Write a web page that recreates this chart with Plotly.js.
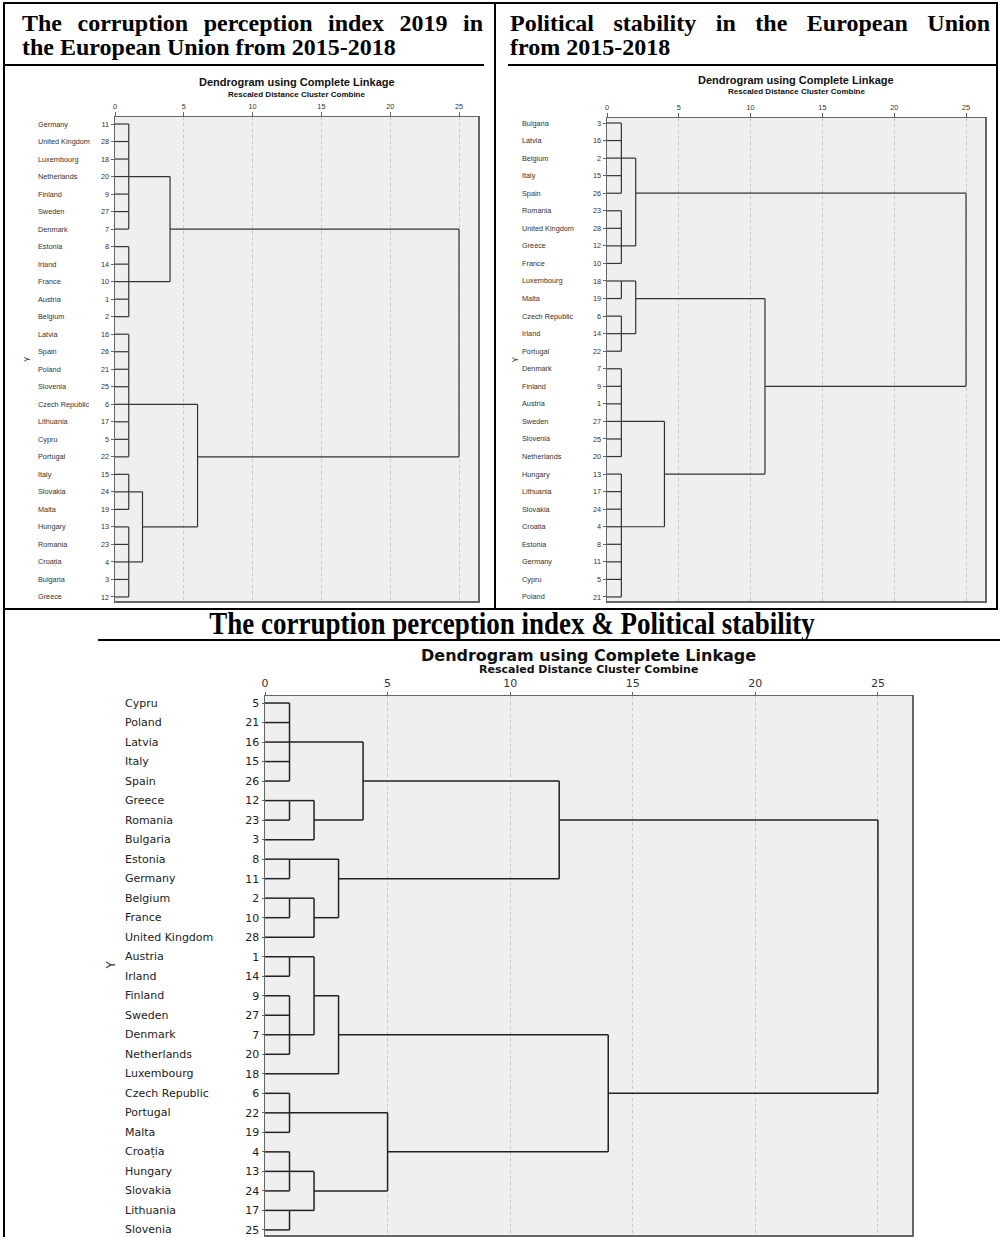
<!DOCTYPE html>
<html>
<head>
<meta charset="utf-8">
<script src="https://cdn.plot.ly/plotly-3.0.1.min.js"></script>
<style>
  html, body { margin: 0; padding: 0; background: #fff; }
  body { width: 1000px; height: 1237px; position: relative; overflow: hidden; }
  #chart { position: absolute; left: 0; top: 0; width: 1000px; height: 1237px; z-index: 1; }
  .ln { position: absolute; background: #000; z-index: 3; }
  .hdr { position: absolute; z-index: 3; font-family: "Liberation Serif", "Times New Roman", serif;
         font-weight: bold; color: #000; font-size: 24px; line-height: 24px; white-space: nowrap; }
  .just { text-align: justify; text-align-last: justify; white-space: normal; }
</style>
</head>
<body>
<div id="chart"></div>

<!-- table borders -->
<div class="ln" style="left:4px;top:2px;width:994px;height:2px"></div>
<div class="ln" style="left:3px;top:2px;width:2px;height:1235px"></div>
<div class="ln" style="left:996px;top:2px;width:2px;height:608px"></div>
<div class="ln" style="left:494px;top:2px;width:2px;height:608px"></div>
<div class="ln" style="left:4px;top:64px;width:480px;height:2px"></div>
<div class="ln" style="left:508px;top:64px;width:490px;height:2px"></div>
<div class="ln" style="left:4px;top:608px;width:994px;height:2px"></div>
<div class="ln" style="left:98px;top:639px;width:902px;height:2px"></div>

<!-- header texts -->
<div class="hdr just" style="left:22px;top:11px;width:461px">The corruption perception index 2019 in</div>
<div class="hdr" style="left:22px;top:35px">the European Union from 2015-2018</div>
<div class="hdr just" style="left:510px;top:11px;width:480px">Political stability in the European Union</div>
<div class="hdr" style="left:510px;top:35px">from 2015-2018</div>
<div class="hdr" style="left:0px;width:1024px;top:612px;font-size:27px;line-height:27px;text-align:center;transform:scaleY(1.2);transform-origin:50% 22.6px">The corruption perception index &amp; Political stability</div>

<script>
// ---------- DATA ----------
// Chart 1: corruption perception index 2019 (leaf order top to bottom)
const cpiCountries = ["Germany","United Kingdom","Luxembourg","Netherlands","Finland","Sweden","Denmark",
  "Estonia","Irland","France","Austria","Belgium","Latvia","Spain","Poland","Slovenia","Czech Republic",
  "Lithuania","Cypru","Portugal","Italy","Slovakia","Malta","Hungary","Romania","Croația","Bulgaria","Greece"];
const cpiIds = [11,28,18,20,9,27,7,8,14,10,1,2,16,26,21,25,6,17,5,22,15,24,19,13,23,4,3,12];
// tree node: [rescaled distance, row where the link leaves, children]; a plain number is a leaf row
const cpiTree = [25, null, [
  [4, 7, [
    [1, 4, [1,2,3,4,5,6,7]],
    [1, 10, [8,9,10,11,12]]
  ]],
  [6, 20, [
    [1, 17, [13,14,15,16,17,18,19,20]],
    [2, 24, [
      [1, 22, [21,22,23]],
      [1, 26, [24,25,26,27,28]]
    ]]
  ]]
]];

// Chart 2: political stability
const psCountries = ["Bulgaria","Latvia","Belgium","Italy","Spain","Romania","United Kingdom","Greece","France",
  "Luxembourg","Malta","Czech Republic","Irland","Portugal","Denmark","Finland","Austria","Sweden","Slovenia",
  "Netherlands","Hungary","Lithuania","Slovakia","Croația","Estonia","Germany","Cypru","Poland"];
const psIds = [3,16,2,15,26,23,28,12,10,18,19,6,14,22,7,9,1,27,25,20,13,17,24,4,8,11,5,21];
const psTree = [25, null, [
  [2, 5, [
    [1, 3, [1,2,3,4,5]],
    [1, 8, [6,7,8,9]]
  ]],
  [11, 16, [
    [2, 11, [
      [1, 10, [10,11]],
      [1, 13, [12,13,14]]
    ]],
    [4, 21, [
      [1, 18, [15,16,17,18,19,20]],
      [1, 24, [21,22,23,24,25,26,27,28]]
    ]]
  ]]
]];

// Chart 3: both indicators
const bothCountries = ["Cypru","Poland","Latvia","Italy","Spain","Greece","Romania","Bulgaria","Estonia",
  "Germany","Belgium","France","United Kingdom","Austria","Irland","Finland","Sweden","Denmark","Netherlands",
  "Luxembourg","Czech Republic","Portugal","Malta","Croația","Hungary","Slovakia","Lithuania","Slovenia"];
const bothIds = [5,21,16,15,26,12,23,3,8,11,2,10,28,1,14,9,27,7,20,18,6,22,19,4,13,24,17,25];
const bothTree = [25, null, [
  [12, 7, [
    [4, 5, [
      [1, 3, [1,2,3,4,5]],
      [2, 7, [[1, 6, [6,7]], 8]]
    ]],
    [3, 10, [
      [1, 9, [9,10]],
      [2, 12, [[1, 11, [11,12]], 13]]
    ]]
  ]],
  [14, 21, [
    [3, 18, [
      [2, 16, [[1, 14, [14,15]], [1, 18, [16,17,18,19]]]],
      20
    ]],
    [5, 24, [
      [1, 22, [21,22,23]],
      [2, 26, [[1, 25, [24,25,26]], [1, 27, [27,28]]]]
    ]]
  ]]
]];

const axisTicks = [0,5,10,15,20,25];
const titleText = "Dendrogram using Complete Linkage";
const subtitleText = "Rescaled Distance Cluster Combine";

// ---------- BUILD ----------
function segments(tree){
  const xs = [], ys = [];
  function walk(n){
    if (typeof n === 'number') return {pos:n, h:0};
    const h = n[0], at = n[1];
    const ch = n[2].map(walk);
    ch.forEach(c => { xs.push(c.h, h, null); ys.push(c.pos, c.pos, null); });
    const ps = ch.map(c => c.pos);
    xs.push(h, h, null); ys.push(Math.min(...ps), Math.max(...ps), null);
    return {pos:at, h:h};
  }
  walk(tree);
  return {xs, ys};
}

const H = 1237, W = 1000;
const px = v => v / W;
const py = v => 1 - v / H;

const charts = [
  {tree:cpiTree, names:cpiCountries, ids:cpiIds, xa:'x', ya:'y',
   x0:115, x1:478, xmax:26.38, y0:117, y1:601, rtop:0.60, rbot:28.23,
   fam:'"Liberation Sans", Arial, sans-serif', fs:7.3, lblX:36, yTitleX:27,
   titleY:82, subY:94, tfs:11, sfs:8, lw:1.2, lc:'#333', ycol:'#333', tlen:3, xtlen:4},
  {tree:psTree, names:psCountries, ids:psIds, xa:'x2', ya:'y2',
   x0:607, x1:985, xmax:26.32, y0:118, y1:601, rtop:0.715, rbot:28.23,
   fam:'"Liberation Sans", Arial, sans-serif', fs:7.3, lblX:520, yTitleX:514,
   titleY:80, subY:92, tfs:11, sfs:8, lw:1.2, lc:'#333', ycol:'#333', tlen:3, xtlen:4},
  {tree:bothTree, names:bothCountries, ids:bothIds, xa:'x3', ya:'y3',
   x0:265, x1:912, xmax:26.39, y0:696, y1:1235, rtop:0.64, rbot:28.26,
   fam:'"DejaVu Sans", Verdana, sans-serif', fs:11, lblX:123, yTitleX:110,
   titleY:655, subY:669, tfs:16, sfs:11, lw:1.5, lc:'#222', ycol:'#222', tlen:2, xtlen:3}
];

const traces = [];
const layout = {
  width: W, height: H, margin:{l:0,r:0,t:0,b:0},
  paper_bgcolor:'rgba(0,0,0,0)', plot_bgcolor:'#efefef',
  showlegend:false, annotations:[]
};

charts.forEach((c, k) => {
  const s = segments(c.tree);
  traces.push({type:'scatter', mode:'lines', x:s.xs, y:s.ys, xaxis:c.xa, yaxis:c.ya,
    line:{color:c.lc, width:c.lw}, hoverinfo:'skip', connectgaps:false});
  const xk = k === 0 ? 'xaxis' : 'xaxis' + (k+1);
  const yk = k === 0 ? 'yaxis' : 'yaxis' + (k+1);
  const rows = c.ids.map((_, i) => i + 1);
  layout[xk] = {
    domain:[px(c.x0), px(c.x1)], range:[0, c.xmax], anchor:c.ya, side:'top',
    tickvals:axisTicks, ticks:'outside', ticklen:c.xtlen, tickcolor:'#666', tickwidth:1,
    tickfont:{family:c.fam, size:c.fs, color:'#333'},
    showgrid:true, gridcolor:'#c6c6c6', griddash:'3px,3px', gridwidth:1,
    zeroline:false, showline:true, mirror:true, linecolor:'#666', linewidth:1.5, fixedrange:true
  };
  layout[yk] = {
    domain:[py(c.y1), py(c.y0)], range:[c.rbot, c.rtop], anchor:c.xa,
    tickvals:rows, ticktext:c.ids.map(String), ticks:'outside', ticklen:c.tlen, tickcolor:'#666',
    tickfont:{family:c.fam, size:c.fs, color:c.ycol},
    showgrid:false, zeroline:false, showline:true, mirror:true, linecolor:'#666', linewidth:1.5, fixedrange:true
  };
  const ycenter = (c.y0 + c.y1) / 2;
  const xcenter = (c.x0 + c.x1) / 2;
  const tfam = k === 2 ? '"DejaVu Sans", sans-serif' : '"Liberation Sans", Arial, sans-serif';
  layout.annotations.push(
    {xref:'paper', yref:'paper', x:px(xcenter), y:py(c.titleY), text:'<b>'+titleText+'</b>', showarrow:false,
     xanchor:'center', yanchor:'middle', font:{family:tfam, size:c.tfs, color:'#111'}},
    {xref:'paper', yref:'paper', x:px(xcenter), y:py(c.subY), text:'<b>'+subtitleText+'</b>', showarrow:false,
     xanchor:'center', yanchor:'middle', font:{family:tfam, size:c.sfs, color:'#111'}},
    {xref:'paper', yref:'paper', x:px(c.yTitleX), y:py(ycenter), text:'Y', textangle:-90, showarrow:false,
     xanchor:'center', yanchor:'middle', font:{family:c.fam, size:c.fs+1, color:'#333'}}
  );
  c.names.forEach((n, i) => {
    layout.annotations.push({xref:'paper', yref:c.ya, x:px(c.lblX), y:i+1, text:n, showarrow:false,
      xanchor:'left', yanchor:'middle', font:{family:c.fam, size:c.fs, color:c.ycol}});
  });
});

Plotly.newPlot('chart', traces, layout, {staticPlot:true, displayModeBar:false});
</script>
</body>
</html>
